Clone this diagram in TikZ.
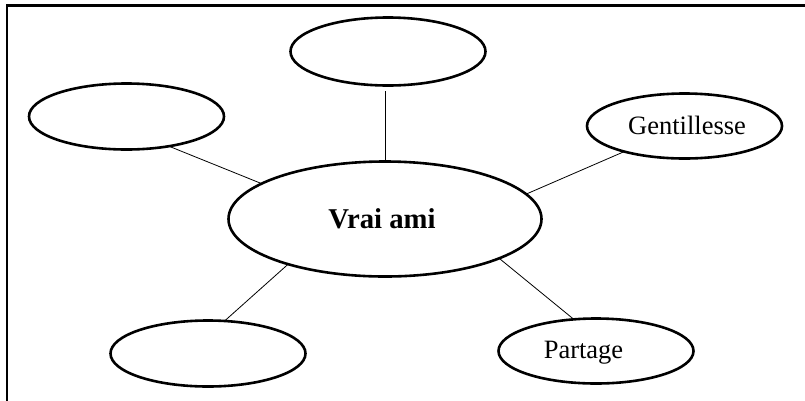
\documentclass[tikz,border=0pt]{standalone}
\usepackage{fontspec}
\setmainfont{Liberation Serif}
\usetikzlibrary{shapes.geometric}

\tikzset{
  bubble/.style={ellipse, draw, line width=2.6pt, inner sep=0pt, outer sep=0pt},
  small/.style={bubble, minimum width=195pt, minimum height=66pt},
  link/.style={draw, line width=0.8pt},
  frameline/.style={draw, line width=2.3pt},
  word/.style={inner sep=0pt, font=\fontsize{26.5pt}{30pt}\selectfont},
  title/.style={inner sep=0pt, font=\fontsize{28.7pt}{32pt}\selectfont\bfseries}
}

\begin{document}
\begin{tikzpicture}[x=1pt, y=-1pt]
  \useasboundingbox (0,0) rectangle (805,400);

  % page frame (top and left edges)
  \coordinate (fr) at (806,5.5);
  \coordinate (fc) at (6.8,5.5);
  \coordinate (fb) at (6.8,401);
  \draw[frameline] (fr) -- (fc) -- (fb);

  % central bubble
  \node[bubble, minimum width=313pt, minimum height=115pt] (centre) at (385,219) {};
  \node[title] (centretxt) at (382,218.5) {Vrai ami};

  % surrounding bubbles
  \node[small] (tl)  at (126.5,116.5) {};
  \node[small, minimum height=68pt] (top) at (388,51.5) {};
  \node[small, minimum height=65pt] (gen) at (684.5,126) {};
  \node[small] (bl)  at (208,353.5) {};
  \node[small, minimum height=65pt] (par) at (596,351) {};

  \node[word] (gentxt) at (687,125) {Gentillesse};
  \node[word] (partxt) at (583.5,353) {Partage};

  % connectors
  \draw[link] (tl.-35.9) -- (centre.164.9);
  \draw[link, shorten >=5pt] (centre.north) -- (centre.north |- top.south);
  \draw[link] (gen.203.3) -- (centre.10.7);
  \draw[link] (bl.63.8) -- (centre.205.8);
  \draw[link] (par.125.2) -- (centre.-19.6);
\end{tikzpicture}
\end{document}
